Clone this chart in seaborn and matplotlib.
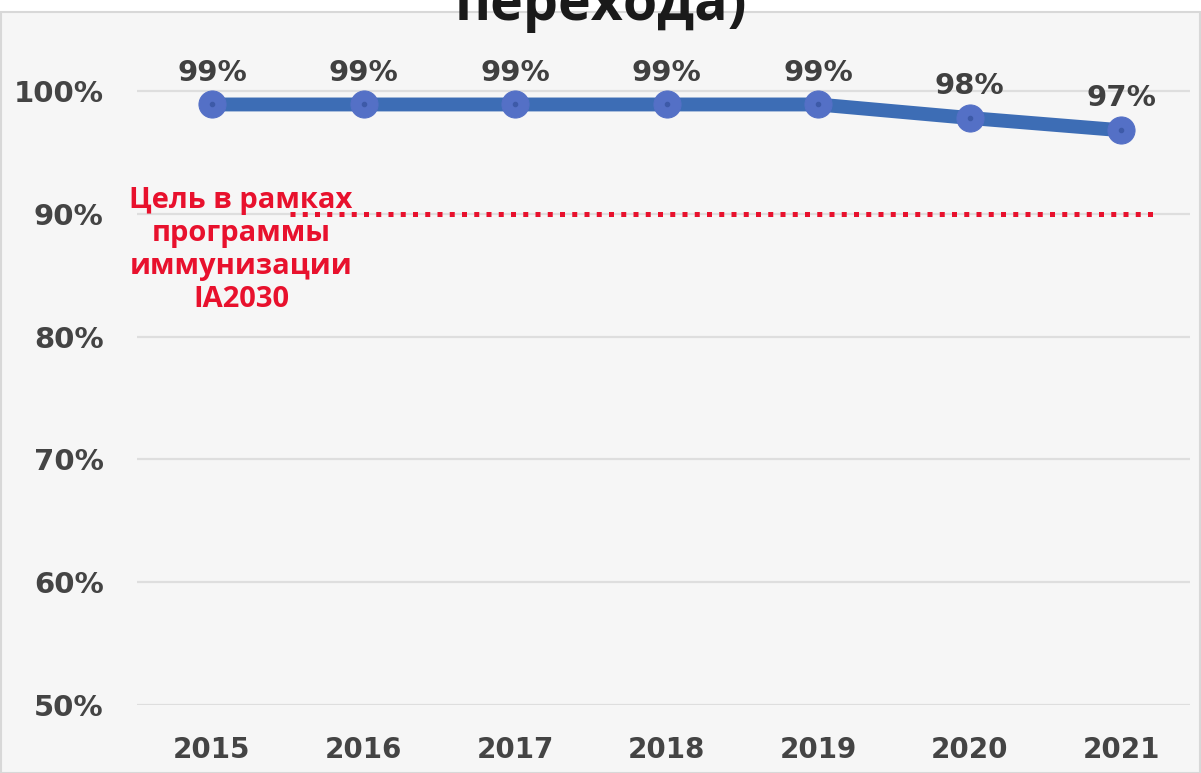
import matplotlib
matplotlib.use("Agg")
import matplotlib.pyplot as plt
import seaborn as sns
import pandas as pd
from matplotlib.patches import Rectangle

years = ["2015", "2016", "2017", "2018", "2019", "2020", "2021"]
coverage = [98.9, 98.9, 98.9, 98.9, 98.9, 97.8, 96.8]
labels = ["99%", "99%", "99%", "99%", "99%", "98%", "97%"]
target = 90
yticks = [50, 60, 70, 80, 90, 100]
ytick_labels = ["50%", "60%", "70%", "80%", "90%", "100%"]
title = "(Охват вакцинацией, % от когорты\nперехода)"
target_text = "Цель в рамках\nпрограммы\nиммунизации\nIA2030"

sns.set_theme(style="white")
plt.rcParams['font.family'] = ['DejaVu Sans']

fig = plt.figure(figsize=(12.01, 7.73), dpi=100)
fig.patch.set_facecolor("white")
panel = Rectangle((0.001, 0), 0.998, 1 - 12 / 773, transform=fig.transFigure,
                  facecolor="#f6f6f6", edgecolor="#d8d8d8", linewidth=1.5, zorder=-5)
fig.patches.append(panel)

ax = fig.add_axes([137 / 1201, 1 - 705 / 773, (1190 - 137) / 1201, (705 - 66.4) / 773])
ax.set_facecolor("none")
ax.set_zorder(2)

df = pd.DataFrame({"year": years, "coverage": coverage})
sns.lineplot(data=df, x="year", y="coverage", ax=ax, sort=False, color="#3d6db5",
             linewidth=10, marker="o", markersize=19.5, markerfacecolor="#5470c6",
             markeredgecolor="#5470c6", zorder=5, clip_on=False)
ax.plot(range(len(years)), coverage, linestyle="none", marker="o", markersize=3,
        color="#3d5aa8", zorder=6, clip_on=False)

for i, (v, lab) in enumerate(zip(coverage, labels)):
    ax.text(i, v + 2.6, lab, ha="center", va="center", fontsize=21, fontweight="bold",
            color="#404040", zorder=7, clip_on=False)

ax.set_ylim(50, 102)
ax.set_xlim(-0.495, 6.455)
ax.set_yticks(yticks)
ax.set_yticklabels(ytick_labels)
ax.yaxis.grid(True, color="#dedede", linewidth=1.6)
ax.set_axisbelow(True)
for s in ax.spines.values():
    s.set_visible(False)
ax.tick_params(axis="y", length=0, pad=24, labelsize=21, labelcolor="#444444")
ax.tick_params(axis="x", length=0, pad=22, labelsize=20, labelcolor="#444444")
for t in ax.get_xticklabels() + ax.get_yticklabels():
    t.set_fontweight("bold")
ax.set_xlabel("")
ax.set_ylabel("")

# target line
ax.axhline(target, xmin=(290 - 137) / (1190 - 137), xmax=(1155 - 137) / (1190 - 137),
           color="#e8112d", linewidth=3.6, linestyle=(0, (1, 1.45)), zorder=4)
fig.text(241 / 1201, 1 - 250 / 773, target_text, ha="center", va="center",
         fontsize=21, fontweight="bold", color="#e8112d", family=["Open Sans"],
         linespacing=1.17, zorder=8)

fig.text(0.5, 1 - 20 / 773, title, ha="center", va="baseline", fontsize=40,
         fontweight="bold", color="#1a1a1a", family=["Open Sans"], linespacing=1.1)

fig.savefig("out.png", dpi=100)
